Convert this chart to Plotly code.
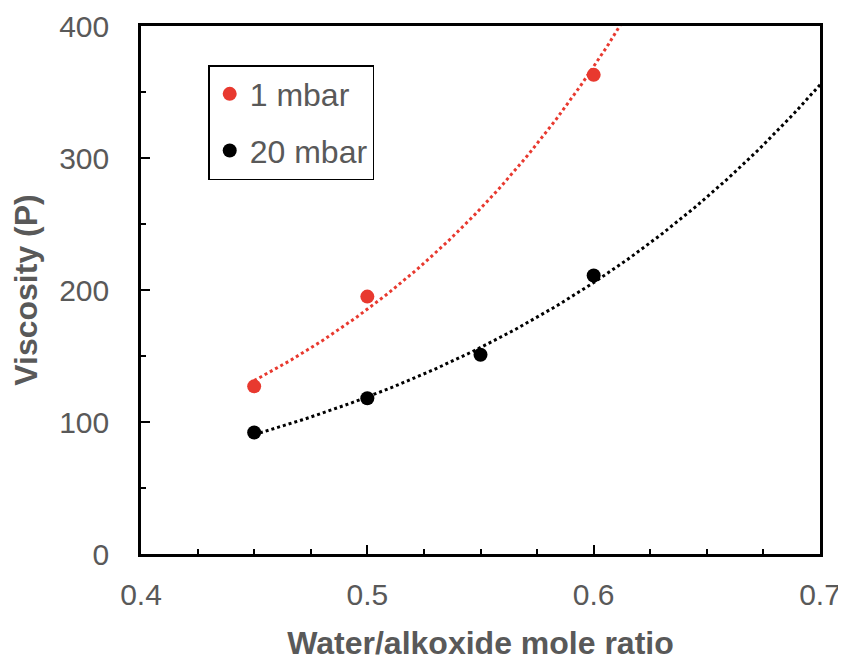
import numpy as np
import plotly.graph_objects as go

# Data
x_1mbar = [0.45, 0.50, 0.60]
y_1mbar = [127, 195, 363]
x_20mbar = [0.45, 0.50, 0.55, 0.60]
y_20mbar = [92, 118, 151, 211]

series_names = ["1 mbar", "20 mbar"]
x_ticks = [0.4, 0.5, 0.6, 0.7]
x_tick_labels = ["0.4", "0.5", "0.6", "0.7"]
y_ticks = [0, 100, 200, 300, 400]
y_tick_labels = ["0", "100", "200", "300", "400"]

RED = "#e8392f"
BLACK = "#000000"
GRAY = "#595959"
FONT = "Liberation Sans, Arial, sans-serif"


def exp_trend(xs, ys, x0, x1):
    b, a = np.polyfit(np.array(xs), np.log(np.array(ys)), 1)
    xx = np.linspace(x0, x1, 200)
    return xx, np.exp(a + b * xx)


fig = go.Figure()

tx, ty = exp_trend(x_1mbar, y_1mbar, 0.45, 0.64)
fig.add_trace(go.Scatter(x=tx, y=ty, mode="lines", showlegend=False,
                         line=dict(color=RED, width=3, dash="dot"), hoverinfo="skip"))
tx, ty = exp_trend(x_20mbar, y_20mbar, 0.45, 0.70)
fig.add_trace(go.Scatter(x=tx, y=ty, mode="lines", showlegend=False,
                         line=dict(color=BLACK, width=3, dash="dot"), hoverinfo="skip"))

fig.add_trace(go.Scatter(x=x_1mbar, y=y_1mbar, mode="markers", name=series_names[0],
                         legendgroup="a", marker=dict(color=RED, size=14)))
fig.add_trace(go.Scatter(x=x_20mbar, y=y_20mbar, mode="markers", name=series_names[1],
                         legendgroup="b", marker=dict(color=BLACK, size=14)))

# page body has an 8px margin, so the figure is sized to fit the 846x664 window
fig.update_layout(
    width=838, height=656,
    margin=dict(l=133, r=26, t=18, b=110),
    paper_bgcolor="white", plot_bgcolor="white",
    font=dict(family=FONT, color=GRAY, size=28),
    legend=dict(x=0.099, y=0.926, xanchor="left", yanchor="top",
                bordercolor="#000000", borderwidth=1.5, bgcolor="white",
                font=dict(size=32, color=GRAY), itemwidth=30, tracegroupgap=12),
    showlegend=True,
)

fig.update_xaxes(
    range=[0.4, 0.7], tickvals=x_ticks, ticktext=x_tick_labels,
    showgrid=False, zeroline=False, automargin=False,
    showline=True, linecolor="#000000", linewidth=2.5, mirror=True,
    ticks="inside", ticklen=9, tickwidth=2, tickcolor="#000000",
    tickfont=dict(size=30, color=GRAY), ticklabelstandoff=12,
    minor=dict(dtick=0.025, ticks="inside", ticklen=5, tickwidth=1.5, tickcolor="#000000"),
    title=dict(text="<b>Water/alkoxide mole ratio</b>", font=dict(size=32, color=GRAY), standoff=22),
)
fig.update_yaxes(
    range=[0, 400], tickvals=y_ticks, ticktext=y_tick_labels,
    showgrid=False, zeroline=False, automargin=False,
    showline=True, linecolor="#000000", linewidth=2.5, mirror=True,
    ticks="inside", ticklen=9, tickwidth=2, tickcolor="#000000",
    tickfont=dict(size=30, color=GRAY), ticklabelstandoff=23,
    minor=dict(dtick=50, ticks="inside", ticklen=5, tickwidth=1.5, tickcolor="#000000"),
    title=dict(text="<b>Viscosity (P)</b>", font=dict(size=32, color=GRAY), standoff=12),
)

fig.write_html("out.html")
